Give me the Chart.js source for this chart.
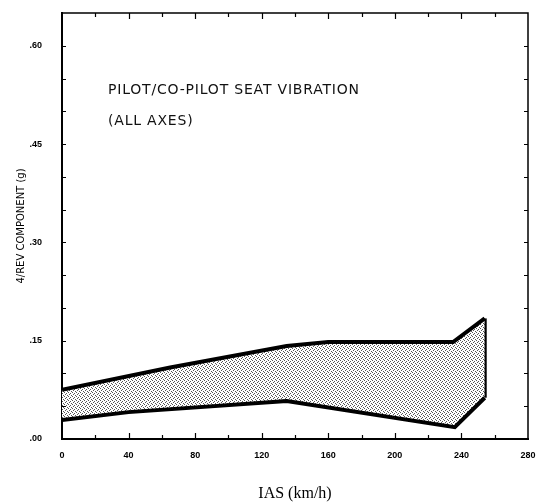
<!DOCTYPE html>
<html>
<head>
<meta charset="utf-8">
<script src="https://cdn.jsdelivr.net/npm/chart.js@4.4.0/dist/chart.umd.min.js"></script>
<style>
  html, body { margin: 0; padding: 0; background: #fff; }
</style>
</head>
<body>
<canvas id="graficoVibracao" width="539" height="503"></canvas>
<script>
// valores (IAS km/h, g)
const iasSuperior = [0, 65, 135, 160, 235, 254];
const gSuperior = [0.075, 0.109, 0.142, 0.148, 0.148, 0.184];
const iasInferior = [0, 40, 135, 236, 254];
const gInferior = [0.029, 0.041, 0.058, 0.018, 0.063];
const ticksX = [0, 40, 80, 120, 160, 200, 240, 280];
const ticksY = [0, 0.15, 0.30, 0.45, 0.60];

function pontos(xs, ys) {
  return xs.map((x, i) => ({ x: x, y: ys[i] }));
}

// textura pontilhada do preenchimento
function criarTextura() {
  const c = document.createElement('canvas');
  c.width = 4; c.height = 4;
  const ctx = c.getContext('2d');
  ctx.fillStyle = '#fff';
  ctx.fillRect(0, 0, 4, 4);
  ctx.fillStyle = '#555';
  ctx.fillRect(0, 0, 1, 1);
  ctx.fillRect(2, 1, 1, 1);
  ctx.fillRect(1, 2, 1, 1);
  ctx.fillRect(3, 3, 1, 1);
  return document.createElement('canvas').getContext('2d').createPattern(c, 'repeat');
}

// tracinhos para dentro nos quatro lados + texto da legenda
const marcasInternas = {
  id: 'marcasInternas',
  afterDraw(chart) {
    const ctx = chart.ctx;
    const a = chart.chartArea;
    const sx = chart.scales.x, sy = chart.scales.y;
    ctx.save();
    ctx.strokeStyle = '#000';
    ctx.lineWidth = 1.2;
    for (let v = 20; v < 280; v += 20) {
      const px = Math.round(sx.getPixelForValue(v)) + 0.5;
      const len = v % 40 === 0 ? 6 : 4;
      ctx.beginPath();
      ctx.moveTo(px, a.bottom); ctx.lineTo(px, a.bottom - len);
      ctx.moveTo(px, a.top); ctx.lineTo(px, a.top + len);
      ctx.stroke();
    }
    for (let k = 1; k <= 12; k++) {
      const v = k * 0.05;
      const py = Math.round(sy.getPixelForValue(v)) + 0.5;
      ctx.beginPath();
      ctx.moveTo(a.left, py); ctx.lineTo(a.left + 4, py);
      ctx.moveTo(a.right, py); ctx.lineTo(a.right - 4, py);
      ctx.stroke();
    }
    // moldura de cima e da direita
    ctx.lineWidth = 1.5;
    ctx.beginPath();
    ctx.moveTo(a.left, a.top); ctx.lineTo(a.right, a.top); ctx.lineTo(a.right, a.bottom);
    ctx.stroke();
    ctx.fillStyle = '#111';
    ctx.font = '14px "DejaVu Sans", sans-serif';
    ctx.letterSpacing = '0.8px';
    ctx.textBaseline = 'middle';
    ctx.fillText('PILOT/CO-PILOT SEAT VIBRATION', a.left + 46, 90);
    ctx.fillText('(ALL AXES)', a.left + 46, 121);
    ctx.restore();
  }
};

const textura = criarTextura();
const graficoVibracao = document.getElementById('graficoVibracao');
new Chart(graficoVibracao, {
  type: 'scatter',
  data: {
    datasets: [
      {
        label: 'inferior',
        data: pontos(iasInferior, gInferior),
        showLine: true,
        borderColor: '#000',
        borderWidth: 4,
        pointRadius: 0,
        fill: false
      },
      {
        label: 'superior',
        data: pontos(iasSuperior, gSuperior),
        showLine: true,
        borderColor: '#000',
        borderWidth: 4,
        pointRadius: 0,
        backgroundColor: textura,
        fill: '-1'
      },
      {
        label: 'borda',
        data: pontos([iasInferior[4], iasSuperior[5]], [gInferior[4], gSuperior[5]]),
        showLine: true,
        borderColor: '#000',
        borderWidth: 4,
        pointRadius: 0,
        fill: false
      }
    ]
  },
  options: {
    responsive: false,
    animation: false,
    layout: { padding: { left: 0, top: 13, right: 11, bottom: 0 } },
    plugins: { legend: { display: false }, tooltip: { enabled: false } },
    scales: {
      x: {
        type: 'linear',
        min: 0, max: 280,
        afterBuildTicks(scale) { scale.ticks = ticksX.map(v => ({ value: v })); },
        afterFit(scale) { scale.height = 64; scale.paddingLeft = 0; scale.paddingRight = 0; },
        border: { display: true, color: '#000', width: 2 },
        grid: { display: false },
        ticks: {
          padding: 3,
          color: '#000',
          font: { family: 'Arial, "Liberation Sans", sans-serif', size: 9, weight: 'bold' },
          maxRotation: 0
        },
        title: {
          display: true,
          text: 'IAS (km/h)',
          color: '#000',
          font: { family: '"Liberation Serif", "Times New Roman", serif', size: 16 },
          padding: { top: 18, bottom: 0 }
        }
      },
      y: {
        min: 0, max: 0.65,
        afterBuildTicks(scale) { scale.ticks = ticksY.map(v => ({ value: v })); },
        afterFit(scale) { scale.width = 62; scale.paddingTop = 0; scale.paddingBottom = 0; },
        border: { display: true, color: '#000', width: 2 },
        grid: { display: false },
        ticks: {
          padding: 12,
          color: '#000',
          font: { family: 'Arial, "Liberation Sans", sans-serif', size: 9, weight: 'bold' },
          callback: v => '.' + String(Math.round(v * 100)).padStart(2, '0')
        },
        title: {
          display: true,
          text: '4/REV COMPONENT (g)',
          color: '#000',
          font: { family: '"DejaVu Sans", sans-serif', size: 10 },
          padding: { top: 15, bottom: 0 }
        }
      }
    }
  },
  plugins: [marcasInternas]
});
</script>
</body>
</html>
